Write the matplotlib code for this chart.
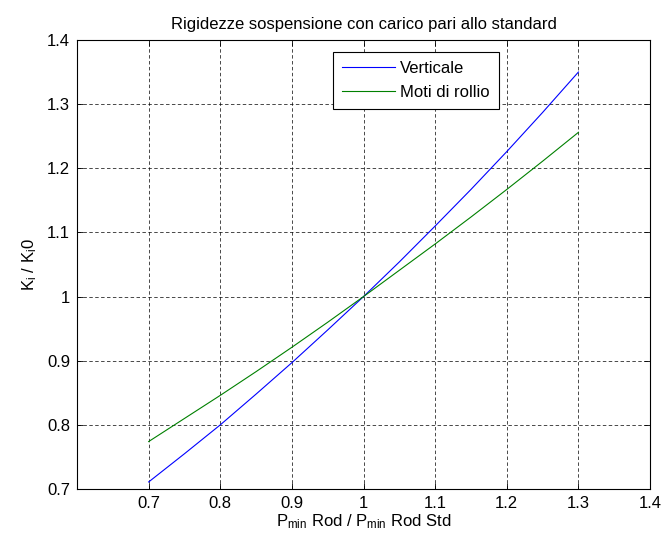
import matplotlib
matplotlib.use("Agg")
import matplotlib.pyplot as plt

plt.rcParams['font.family'] = ['Liberation Sans', 'DejaVu Sans']
plt.rcParams['mathtext.default'] = 'regular'

x = [0.70, 0.75, 0.80, 0.85, 0.90, 0.95, 1.00, 1.05, 1.10, 1.15, 1.20, 1.25, 1.30]
verticale = [0.711, 0.755, 0.800, 0.848, 0.897, 0.948, 1.000, 1.054, 1.110, 1.167, 1.226, 1.287, 1.350]
rollio = [0.774, 0.810, 0.846, 0.883, 0.921, 0.960, 1.000, 1.041, 1.082, 1.124, 1.167, 1.211, 1.256]
xticks = [0.7, 0.8, 0.9, 1.0, 1.1, 1.2, 1.3, 1.4]
xticklabels = ['0.7', '0.8', '0.9', '1', '1.1', '1.2', '1.3', '1.4']
yticks = [0.7, 0.8, 0.9, 1.0, 1.1, 1.2, 1.3, 1.4]
yticklabels = ['0.7', '0.8', '0.9', '1', '1.1', '1.2', '1.3', '1.4']

fig = plt.figure(figsize=(6.64, 5.40), dpi=100)
ax = fig.add_axes([0.116, 0.0944, 0.863, 0.8316])

ax.plot(x, verticale, color='#0000ff', lw=0.8, label='Verticale')
ax.plot(x, rollio, color='#008000', lw=0.8, label='Moti di rollio')

ax.set_xlim(0.6, 1.4)
ax.set_ylim(0.7, 1.4)
ax.set_xticks(xticks)
ax.set_xticklabels(xticklabels)
ax.set_yticks(yticks)
ax.set_yticklabels(yticklabels)
ax.tick_params(direction='in', length=4, width=0.6, top=True, right=True, labelsize=12, pad=5)
ax.grid(True, color='black', linestyle=(0, (5, 3.5)), linewidth=0.5)
for s in ax.spines.values():
    s.set_linewidth(0.8)

ax.set_title('Rigidezze sospensione con carico pari allo standard', fontsize=12, pad=8)
ax.set_xlabel('P$_{min}$ Rod / P$_{min}$ Rod Std', fontsize=12, labelpad=1)
ax.set_ylabel('K$_i$ / K$_i$0', fontsize=12, labelpad=6)

leg = ax.legend(loc='upper right', bbox_to_anchor=(0.7365, 0.973), borderaxespad=0,
                fancybox=False, edgecolor='black', framealpha=1, fontsize=12,
                handlelength=3.2, handletextpad=0.3, borderpad=0.55, labelspacing=0.5)
leg.get_frame().set_linewidth(0.8)

fig.savefig('out.png', dpi=100)
